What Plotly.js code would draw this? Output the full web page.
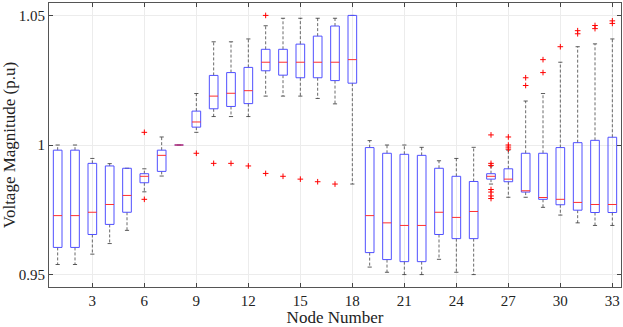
<!DOCTYPE html>
<html>
<head>
<meta charset="utf-8">
<script src="https://cdn.plot.ly/plotly-3.0.1.min.js"></script>
<style>
  html, body { margin: 0; padding: 0; background: #fff; }
  #chart { width: 623px; height: 327px; }
</style>
</head>
<body>
<div id="chart"></div>
<script>
// box statistics per node (p.u.)
const nodes = Array.from({ length: 33 }, (_, i) => i + 1);
const upper = [1.0, 1.0, 0.9948, 0.9928, 0.991, 0.9908, 1.0031, 1.0, 1.0199, 1.0399, 1.0399, 1.041,
    1.0461, 1.049, 1.049, 1.049, 1.049, 1.0501, 1.0017, 1.0, 1.0, 0.9991, 0.9939, 0.9948, 0.9991,
    0.9919, 0.998, 1.017, 1.0199, 1.032, 1.038, 1.0391, 1.041];
const q3 = [0.998, 0.998, 0.9929, 0.9919, 0.991, 0.9889, 0.998, 1.0, 1.0131, 1.0269, 1.028, 1.03,
    1.037, 1.037, 1.039, 1.0421, 1.046, 1.0501, 0.999, 0.9968, 0.9964, 0.996, 0.991, 0.9879, 0.9859,
    0.9889, 0.9908, 0.9968, 0.9968, 0.999, 1.0009, 1.0018, 1.003];
const median = [0.9727, 0.9727, 0.974, 0.977, 0.9805, 0.9879, 0.996, 1.0, 1.0089, 1.0189, 1.02, 1.021,
    1.032, 1.032, 1.032, 1.032, 1.032, 1.033, 0.9727, 0.9699, 0.9689, 0.9689, 0.974, 0.972, 0.9743,
    0.9879, 0.9868, 0.9823, 0.9797, 0.979, 0.9778, 0.977, 0.977];
const q1 = [0.9604, 0.9604, 0.9654, 0.9693, 0.974, 0.9854, 0.9898, 1.0, 1.0069, 1.014, 1.0149, 1.016,
    1.0287, 1.027, 1.026, 1.026, 1.0249, 1.0239, 0.9584, 0.9557, 0.9549, 0.9549, 0.9654, 0.9638, 0.9638,
    0.9868, 0.9858, 0.9818, 0.979, 0.9769, 0.9748, 0.9739, 0.9739];
const lower = [0.9538, 0.9538, 0.9578, 0.9619, 0.967, 0.9819, 0.988, 1.0, 1.0049, 1.011, 1.011, 1.011,
    1.0189, 1.0189, 1.0189, 1.018, 1.0159, 0.9849, 0.9528, 0.9508, 0.9499, 0.9499, 0.9558, 0.9508, 0.9499,
    0.9849, 0.9798, 0.9798, 0.9759, 0.9729, 0.9699, 0.9689, 0.9689];

// outliers (node, value)
const outNode = [6, 6, 9, 10, 11, 12, 13, 13, 14, 15, 16, 17,
    26, 26, 26, 26, 26, 26, 26,
    27, 27, 27, 27, 28, 28, 29, 29, 30, 31, 31, 32, 32, 33, 33];
const outValue = [1.0049, 0.979, 0.9968, 0.9929, 0.9929, 0.9919, 1.0501, 0.989, 0.9879, 0.9868, 0.9858, 0.9849,
    1.0039, 0.9929, 0.9921, 0.9828, 0.9818, 0.9803, 0.9793,
    1.0031, 1.0, 0.9992, 0.9984, 1.026, 1.023, 1.033, 1.028, 1.038, 1.0442, 1.043, 1.0462, 1.045, 1.048, 1.047];

const xTicks = [3, 6, 9, 12, 15, 18, 21, 24, 27, 30, 33];

const halfBox = 0.25;
const halfCap = 0.12;

const whiskX = [], whiskY = [], capX = [], capY = [], boxX = [], boxY = [], medX = [], medY = [];
nodes.forEach((n, i) => {
    whiskX.push(n, n, null, n, n, null);
    whiskY.push(q3[i], upper[i], null, q1[i], lower[i], null);
    capX.push(n - halfCap, n + halfCap, null, n - halfCap, n + halfCap, null);
    capY.push(upper[i], upper[i], null, lower[i], lower[i], null);
    boxX.push(n - halfBox, n + halfBox, n + halfBox, n - halfBox, n - halfBox, null);
    boxY.push(q1[i], q1[i], q3[i], q3[i], q1[i], null);
    medX.push(n - halfBox, n + halfBox, null);
    medY.push(median[i], median[i], null);
});

const traces = [
    { x: whiskX, y: whiskY, mode: 'lines', line: { color: '#444', width: 0.8, dash: '3px,2px' }, hoverinfo: 'skip' },
    { x: capX, y: capY, mode: 'lines', line: { color: '#333', width: 0.8 }, hoverinfo: 'skip' },
    { x: boxX, y: boxY, mode: 'lines', line: { color: '#5050ff', width: 1 }, hoverinfo: 'skip' },
    { x: medX, y: medY, mode: 'lines', line: { color: '#ff3030', width: 1 }, hoverinfo: 'skip' },
    {
        x: outNode, y: outValue, mode: 'markers',
        marker: { symbol: 'cross-thin-open', size: 4, color: '#ff0000', line: { color: '#ff0000', width: 1 } },
        hoverinfo: 'skip'
    }
];

const font = { family: 'Liberation Serif, Times New Roman, serif', color: '#222' };

const layout = {
    width: 623,
    height: 327,
    margin: { l: 49, r: 2, t: 3, b: 40 },
    showlegend: false,
    paper_bgcolor: '#fff',
    plot_bgcolor: '#fff',
    font: Object.assign({ size: 15 }, font),
    xaxis: {
        range: [0.5, 33.5],
        tickvals: xTicks,
        ticktext: xTicks.map(String),
        ticks: 'inside', ticklen: 4, tickcolor: '#444',
        showline: true, linecolor: '#555', linewidth: 1, mirror: 'allticks',
        showgrid: true, gridcolor: '#ececec', gridwidth: 1,
        zeroline: false,
        tickfont: { size: 15 },
        title: { text: 'Node Number', font: { size: 17 }, standoff: 4 }
    },
    yaxis: {
        range: [0.9451, 1.0549],
        tickvals: [0.95, 1, 1.05],
        ticktext: ['0.95', '1', '1.05'],
        ticks: 'inside', ticklen: 4, tickcolor: '#444',
        showline: true, linecolor: '#555', linewidth: 1, mirror: 'allticks',
        showgrid: true, gridcolor: '#ececec', gridwidth: 1,
        zeroline: false,
        tickfont: { size: 15 },
        title: { text: 'Voltage Magnitude (p.u)', font: { size: 17 }, standoff: 2 }
    }
};

Plotly.newPlot('chart', traces, layout, { displayModeBar: false, staticPlot: true });
</script>
</body>
</html>
